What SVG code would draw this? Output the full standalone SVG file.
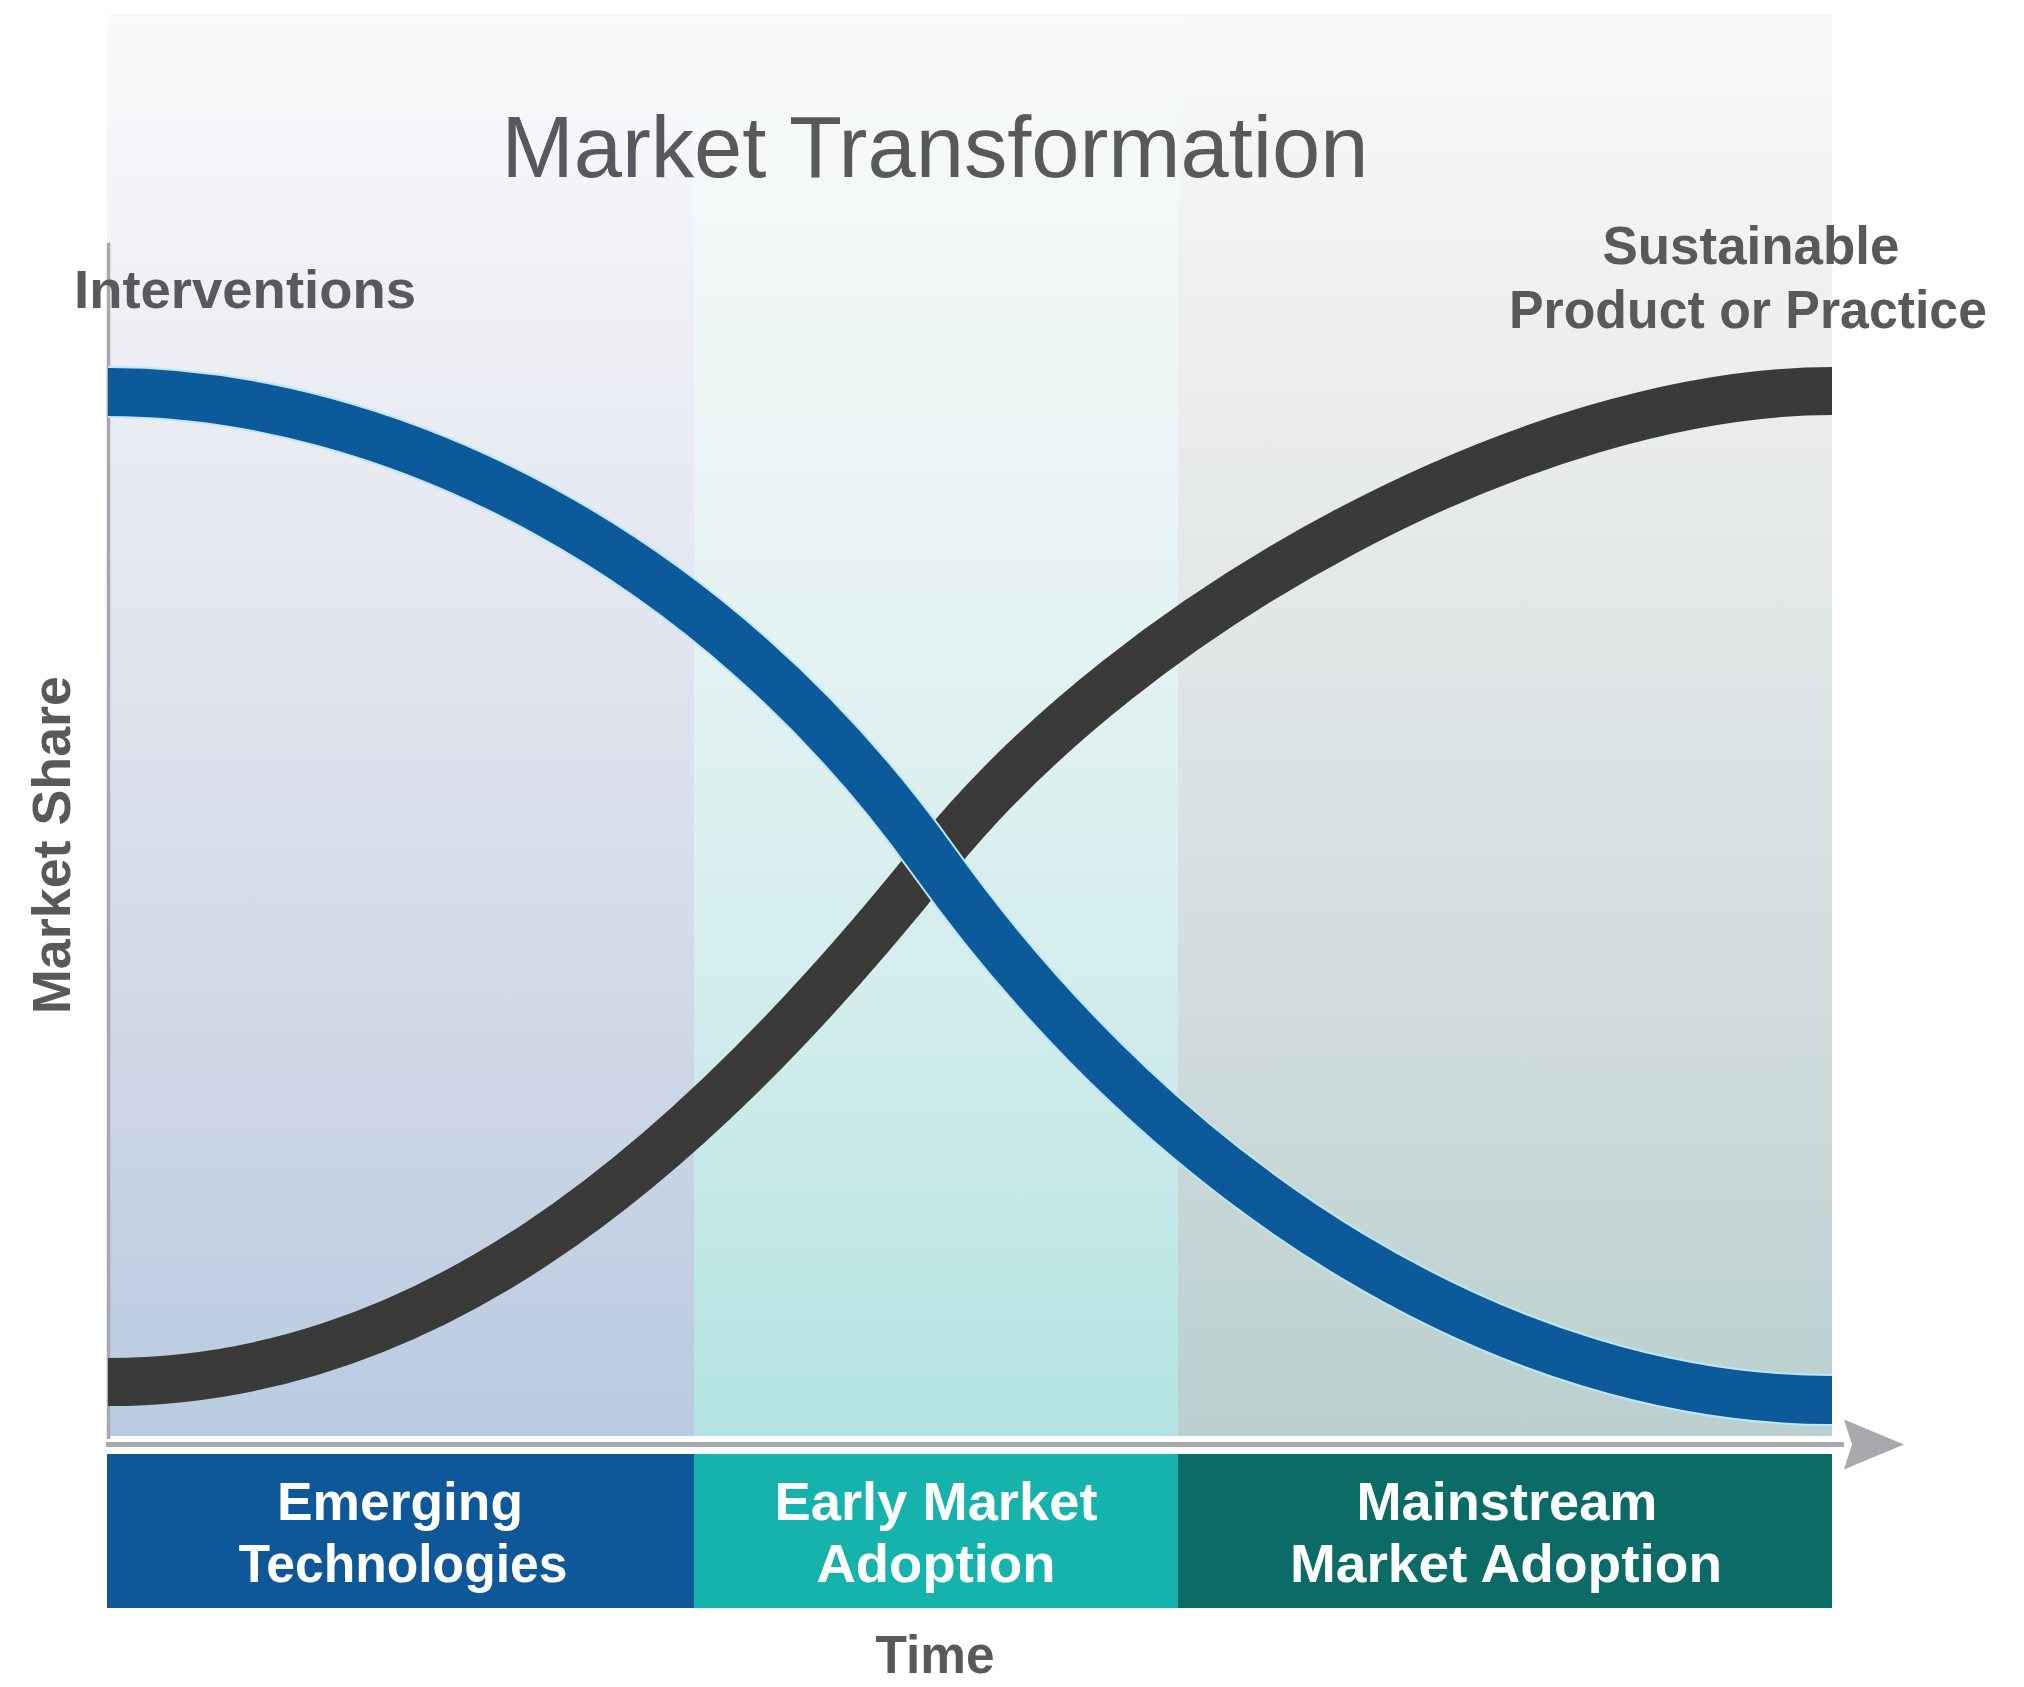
<svg xmlns="http://www.w3.org/2000/svg" width="2024" height="1687" viewBox="0 0 2024 1687">
  <defs>
    <linearGradient id="g1" x1="0" y1="0" x2="0" y2="1">
      <stop offset="0" stop-color="#f9fafb"/>
      <stop offset="0.35" stop-color="#e6e9f1"/>
      <stop offset="0.7" stop-color="#d1d8e7"/>
      <stop offset="1" stop-color="#b8cbe0"/>
    </linearGradient>
    <linearGradient id="g2" x1="0" y1="0" x2="0" y2="1">
      <stop offset="0" stop-color="#f9fafa"/>
      <stop offset="0.35" stop-color="#eaf4f4"/>
      <stop offset="0.7" stop-color="#d2ecec"/>
      <stop offset="1" stop-color="#b3e3e2"/>
    </linearGradient>
    <linearGradient id="g3" x1="0" y1="0" x2="0" y2="1">
      <stop offset="0" stop-color="#f9f9f9"/>
      <stop offset="0.35" stop-color="#e6e9ea"/>
      <stop offset="0.7" stop-color="#d1dcdc"/>
      <stop offset="1" stop-color="#b8d0ce"/>
    </linearGradient>
    <marker id="arrow" viewBox="0 0 60 50" refX="0" refY="25" markerWidth="60" markerHeight="50" markerUnits="userSpaceOnUse" orient="auto">
      <path d="M0,0 L60,25 L0,50 L8,25 Z" fill="#a7a9ac"/>
    </marker>
    <style>
      .lbl { font-family: "Liberation Sans", Arial, sans-serif; font-weight: bold; font-size: 53px; fill: #58595b; }
      .bar { font-family: "Liberation Sans", Arial, sans-serif; font-weight: bold; font-size: 53px; fill: #ffffff; text-anchor: middle; }
      .title { font-family: "Liberation Sans", Arial, sans-serif; font-size: 88px; fill: #58595b; text-anchor: middle; }
      .axis { stroke: #a7a9ac; fill: none; }
      .curve { fill: none; stroke-linecap: butt; }
    </style>
  </defs>

  <rect x="0" y="0" width="2024" height="1687" fill="#ffffff"/>

  <g id="panels">
    <rect id="panel-emerging" x="107" y="14" width="587" height="1422" fill="url(#g1)"/>
    <rect id="panel-early" x="694" y="14" width="484" height="1422" fill="url(#g2)"/>
    <rect id="panel-mainstream" x="1178" y="14" width="654" height="1422" fill="url(#g3)"/>
  </g>

  <text id="title" class="title" x="935" y="177" textLength="867" lengthAdjust="spacingAndGlyphs">Market Transformation</text>

  <g id="axes">
    <line class="axis" x1="108.5" y1="243" x2="108.5" y2="1447" stroke-width="3.5"/>
    <line x1="106" y1="1444.5" x2="1846" y2="1444.5" stroke="#ffffff" stroke-width="11"/>
    <line class="axis" x1="106" y1="1444.5" x2="1844" y2="1444.5" stroke-width="5" marker-end="url(#arrow)"/>
  </g>

  <g id="connectors">
    <path id="curve-sustainable" class="curve" d="M108,1382 C415,1382 673,1185 933,860 C1133,610 1532,391 1832,391" stroke="#3a3b39" stroke-width="48"/>
    <path class="curve" d="M108,392 C388,392 713,552 933,860 C1173,1196 1512,1400 1832,1400" stroke="#bfe6f7" stroke-width="52"/>
    <path id="curve-interventions" class="curve" d="M108,392 C388,392 713,552 933,860 C1173,1196 1512,1400 1832,1400" stroke="#0d5a9b" stroke-width="48"/>
  </g>

  <g id="label-interventions">
    <text class="lbl" x="74" y="308" textLength="342" lengthAdjust="spacingAndGlyphs">Interventions</text>
  </g>
  <g id="label-sustainable">
    <text class="lbl" x="1751" y="264" text-anchor="middle" textLength="297" lengthAdjust="spacingAndGlyphs">Sustainable</text>
    <text class="lbl" x="1748" y="328" text-anchor="middle" textLength="478" lengthAdjust="spacingAndGlyphs">Product or Practice</text>
  </g>
  <g id="label-market-share">
    <text class="lbl" transform="translate(70,845) rotate(-90)" x="0" y="0" text-anchor="middle" textLength="338" lengthAdjust="spacingAndGlyphs">Market Share</text>
  </g>

  <g id="phase-emerging">
    <rect x="107" y="1454" width="587" height="154" fill="#0e5799"/>
    <text class="bar" x="400" y="1520" textLength="246" lengthAdjust="spacingAndGlyphs">Emerging</text>
    <text class="bar" x="403" y="1582" textLength="329" lengthAdjust="spacingAndGlyphs">Technologies</text>
  </g>
  <g id="phase-early">
    <rect x="694" y="1454" width="484" height="154" fill="#16b2ac"/>
    <text class="bar" x="936" y="1520" textLength="323" lengthAdjust="spacingAndGlyphs">Early Market</text>
    <text class="bar" x="936" y="1582" textLength="239" lengthAdjust="spacingAndGlyphs">Adoption</text>
  </g>
  <g id="phase-mainstream">
    <rect x="1178" y="1454" width="654" height="154" fill="#0b6b67"/>
    <text class="bar" x="1507" y="1520" textLength="301" lengthAdjust="spacingAndGlyphs">Mainstream</text>
    <text class="bar" x="1506" y="1582" textLength="432" lengthAdjust="spacingAndGlyphs">Market Adoption</text>
  </g>

  <g id="label-time">
    <text class="lbl" x="935" y="1673" text-anchor="middle" textLength="119" lengthAdjust="spacingAndGlyphs">Time</text>
  </g>
</svg>
